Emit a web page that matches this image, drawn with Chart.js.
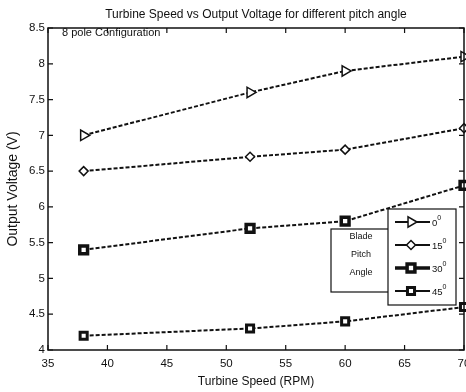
<!DOCTYPE html>
<html>
<head>
<meta charset="utf-8">
<script src="https://cdn.jsdelivr.net/npm/chart.js@4/dist/chart.umd.min.js"></script>
<style>
  html, body { margin: 0; padding: 0; background: #fff; }
  #c { display: block; }
</style>
</head>
<body>
<canvas id="c" width="466" height="392"></canvas>
<script>
// ---- data ----
const speeds = [38, 52, 60, 70];            // Turbine Speed (RPM)
const pitchAngles = ['0', '15', '30', '45']; // Blade pitch angle (degrees)
const volt0  = [7.0, 7.6, 7.9, 8.1];
const volt15 = [6.5, 6.7, 6.8, 7.1];
const volt30 = [5.4, 5.7, 5.8, 6.3];
const volt45 = [4.2, 4.3, 4.4, 4.6];
const xTicks = [35, 40, 45, 50, 55, 60, 65, 70];
const yTicks = [4, 4.5, 5, 5.5, 6, 6.5, 7, 7.5, 8, 8.5];
const titleText = 'Turbine Speed vs Output Voltage for different pitch angle';
const xTitle = 'Turbine Speed (RPM)';
const yTitle = 'Output Voltage (V)';
const noteText = '8 pole Configuration';
const legendTitle = ['Blade', 'Pitch', 'Angle'];

const FONT = '"Liberation Sans", Arial, sans-serif';
const INK = '#111';

function pts(vals) { return speeds.map((s, i) => ({ x: s, y: vals[i] })); }

const styles = [
  { pointStyle: 'triangle', rotation: 90, radius: 6, bw: 1.5, fill: '#fff' },
  { pointStyle: 'rectRot', rotation: 0, radius: 4.5, bw: 1.5, fill: '#fff' },
  { pointStyle: 'rect', rotation: 0, radius: 5.5, bw: 3.5, fill: '#fff' },
  { pointStyle: 'rect', rotation: 0, radius: 5, bw: 3, fill: '#fff' }
];
const seriesVals = [volt0, volt15, volt30, volt45];

const datasets = seriesVals.map((v, i) => ({
  label: pitchAngles[i],
  data: pts(v),
  borderColor: INK,
  backgroundColor: styles[i].fill,
  borderWidth: 2,
  borderDash: [4, 2],
  pointStyle: styles[i].pointStyle,
  pointRotation: styles[i].rotation,
  pointRadius: styles[i].radius,
  pointBorderWidth: styles[i].bw,
  pointBackgroundColor: styles[i].fill,
  pointBorderColor: INK,
  tension: 0,
  clip: false
}));

const frameAndLegend = {
  id: 'frameAndLegend',
  afterDatasetsDraw(chart) {
    const ctx = chart.ctx;
    const a = chart.chartArea;
    const xs = chart.scales.x, ys = chart.scales.y;
    ctx.save();
    // frame
    ctx.strokeStyle = INK;
    ctx.lineWidth = 1.5;
    ctx.setLineDash([]);
    ctx.strokeRect(a.left, a.top, a.right - a.left, a.bottom - a.top);
    // inward ticks on all four sides
    const tl = 5;
    ctx.lineWidth = 1.2;
    ctx.beginPath();
    xTicks.forEach(t => {
      const px = xs.getPixelForValue(t);
      ctx.moveTo(px, a.bottom); ctx.lineTo(px, a.bottom - tl);
      ctx.moveTo(px, a.top); ctx.lineTo(px, a.top + tl);
    });
    yTicks.forEach(t => {
      const py = ys.getPixelForValue(t);
      ctx.moveTo(a.left, py); ctx.lineTo(a.left + tl, py);
      ctx.moveTo(a.right, py); ctx.lineTo(a.right - tl, py);
    });
    ctx.stroke();

    // note text
    ctx.fillStyle = INK;
    ctx.font = '11px ' + FONT;
    ctx.textAlign = 'left';
    ctx.textBaseline = 'middle';
    ctx.fillText(noteText, a.left + 14, a.top + 5);

    // "Blade Pitch Angle" box
    const bx0 = 331, by0 = 229, bx1 = 389, by1 = 292;
    ctx.fillStyle = '#fff';
    ctx.fillRect(bx0, by0, bx1 - bx0, by1 - by0);
    ctx.lineWidth = 1.2;
    ctx.strokeStyle = INK;
    ctx.strokeRect(bx0, by0, bx1 - bx0, by1 - by0);
    ctx.fillStyle = INK;
    ctx.font = '9px ' + FONT;
    ctx.textAlign = 'center';
    legendTitle.forEach((t, i) => ctx.fillText(t, 361, 237 + i * 18));

    // main legend box
    const lx0 = 388, ly0 = 209, lx1 = 456, ly1 = 305;
    ctx.fillStyle = '#fff';
    ctx.fillRect(lx0, ly0, lx1 - lx0, ly1 - ly0);
    ctx.strokeRect(lx0, ly0, lx1 - lx0, ly1 - ly0);
    const rows = [222, 245, 268, 291];
    rows.forEach((ry, i) => {
      const st = styles[i];
      ctx.strokeStyle = INK;
      ctx.lineWidth = i === 2 ? 3.5 : 2;
      ctx.beginPath();
      ctx.moveTo(395, ry); ctx.lineTo(430, ry);
      ctx.stroke();
      drawMarker(ctx, st, 411, ry);
      // label with superscript 0
      ctx.fillStyle = INK;
      ctx.textAlign = 'left';
      ctx.textBaseline = 'middle';
      ctx.font = '9.5px ' + FONT;
      ctx.fillText(pitchAngles[i], 432, ry + 1);
      const w = ctx.measureText(pitchAngles[i]).width;
      ctx.font = '7px ' + FONT;
      ctx.fillText('0', 432 + w, ry - 4);
    });
    ctx.restore();
  }
};

function drawMarker(ctx, st, x, y) {
  ctx.save();
  ctx.fillStyle = st.fill;
  ctx.strokeStyle = INK;
  ctx.lineWidth = st.bw;
  ctx.beginPath();
  const r = st.radius;
  if (st.pointStyle === 'triangle') {
    const h = r * 1.5;
    ctx.moveTo(x + h * 0.66, y);
    ctx.lineTo(x - h * 0.33, y - r * 0.87);
    ctx.lineTo(x - h * 0.33, y + r * 0.87);
    ctx.closePath();
  } else if (st.pointStyle === 'rectRot') {
    ctx.moveTo(x, y - r); ctx.lineTo(x + r, y); ctx.lineTo(x, y + r); ctx.lineTo(x - r, y);
    ctx.closePath();
  } else {
    const s = r * Math.SQRT1_2;
    ctx.rect(x - s, y - s, 2 * s, 2 * s);
  }
  ctx.fill();
  ctx.stroke();
  ctx.restore();
}

new Chart(document.getElementById('c'), {
  type: 'line',
  data: { datasets },
  plugins: [frameAndLegend],
  options: {
    responsive: false,
    animation: false,
    devicePixelRatio: 1,
    layout: { autoPadding: false, padding: { left: 0, right: 2, top: 0, bottom: 0 } },
    plugins: {
      legend: { display: false },
      tooltip: { enabled: false },
      title: {
        display: true,
        text: titleText,
        fullSize: false,
        color: INK,
        font: { family: FONT, size: 12, weight: 'normal' },
        padding: { top: 7, bottom: 6.6 }
      }
    },
    scales: {
      x: {
        type: 'linear',
        min: 35, max: 70,
        afterBuildTicks: s => { s.ticks = xTicks.map(v => ({ value: v })); },
        ticks: { color: INK, font: { family: FONT, size: 11.5 }, padding: 7, maxRotation: 0, autoSkip: false,
                 callback: v => String(v) },
        grid: { display: false, drawTicks: false },
        border: { display: false },
        title: { display: true, text: xTitle, color: INK, font: { family: FONT, size: 12 }, padding: { top: 4, bottom: 3 } },
        afterFit: s => { s.height = 42; s.paddingLeft = 0; s.paddingRight = 0; }
      },
      y: {
        type: 'linear',
        min: 4, max: 8.5,
        afterBuildTicks: s => { s.ticks = yTicks.map(v => ({ value: v })); },
        ticks: { color: INK, font: { family: FONT, size: 11.5 }, padding: 3, callback: v => String(v) },
        grid: { display: false, drawTicks: false },
        border: { display: false },
        title: { display: true, text: yTitle, color: INK, font: { family: FONT, size: 14 }, padding: { top: 5, bottom: 4 } },
        afterFit: s => { s.width = 48; s.paddingTop = 0; s.paddingBottom = 0; }
      }
    }
  }
});
</script>
</body>
</html>
